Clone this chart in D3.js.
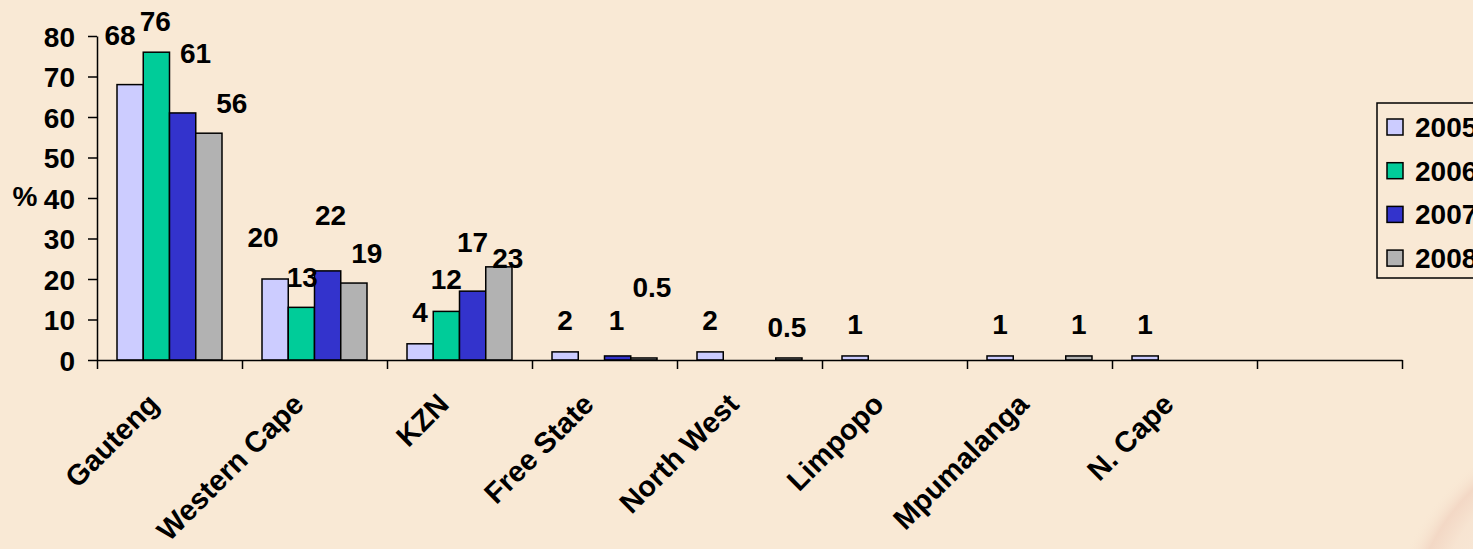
<!DOCTYPE html>
<html>
<head>
<meta charset="utf-8">
<script src="https://cdn.jsdelivr.net/npm/d3@7/dist/d3.min.js"></script>
<style>
  html, body { margin: 0; padding: 0; background: #F9E9D5; overflow: hidden; }
  text { font-family: Arial, "Liberation Sans", sans-serif; font-weight: bold; fill: #000; }
</style>
</head>
<body>
<div id="Container"></div>
<script>
// data
var regions = ["Gauteng", "Western Cape", "KZN", "Free State", "North West", "Limpopo", "Mpumalanga", "N. Cape", ""];
var years = ["2005", "2006", "2007", "2008"];
var v2005 = [68, 20, 4, 2, 2, 1, 1, 1, 0];
var v2006 = [76, 13, 12, 0, 0, 0, 0, 0, 0];
var v2007 = [61, 22, 17, 1, 0, 0, 0, 0, 0];
var v2008 = [56, 19, 23, 0.5, 0.5, 0, 1, 0, 0];
var yTicks = [0, 10, 20, 30, 40, 50, 60, 70, 80];

var colors = { "2005": "#CCCCFF", "2006": "#00CC99", "2007": "#3333CC", "2008": "#B2B2B2" };

// hand placed label nudges in the original [dx, dy from bar top]
var nudge = {
  "2005|Gauteng": [-10, -40], "2006|Gauteng": [-1, -21], "2007|Gauteng": [13, -50], "2008|Gauteng": [23, -20],
  "2005|Western Cape": [-12, -32], "2006|Western Cape": [1, -20], "2007|Western Cape": [3, -46], "2008|Western Cape": [13, -20],
  "2007|KZN": [0, -39], "2008|KZN": [9, 1],
  "2007|Free State": [-1, -26], "2008|Free State": [8, -61],
  "2008|North West": [-2, -21]
};

var W = 1473, H = 549;
var canvas = d3.select("#Container").append("svg")
    .attr("width", W)
    .attr("height", H);

// soft swirl at bottom right
var defs = canvas.append("defs");
var grad = defs.append("radialGradient").attr("id", "swirl")
    .attr("cx", "50%").attr("cy", "50%").attr("r", "50%");
grad.append("stop").attr("offset", "0%").attr("stop-color", "#FBF1E6").attr("stop-opacity", 0.9);
grad.append("stop").attr("offset", "70%").attr("stop-color", "#F6E2D0").attr("stop-opacity", 0.7);
grad.append("stop").attr("offset", "85%").attr("stop-color", "#EFCDBB").attr("stop-opacity", 0.6);
grad.append("stop").attr("offset", "100%").attr("stop-color", "#F9E9D5").attr("stop-opacity", 0);
canvas.append("ellipse")
    .attr("cx", 1560).attr("cy", 560)
    .attr("rx", 190).attr("ry", 130)
    .attr("transform", "rotate(-38,1560,560)")
    .attr("fill", "url(#swirl)");

var x0 = d3.scaleBand()
    .domain(regions)
    .range([97, 1402])
    .padding(0);

var x1 = d3.scaleBand()
    .domain(years)
    .range([0, x0.bandwidth()])
    .paddingInner(0)
    .paddingOuter(0.762);

var y = d3.scaleLinear()
    .domain([0, 80])
    .range([360, 36]);

var rows = [];
regions.forEach(function (r, i) {
    rows.push({ region: r, year: "2005", value: v2005[i] });
    rows.push({ region: r, year: "2006", value: v2006[i] });
    rows.push({ region: r, year: "2007", value: v2007[i] });
    rows.push({ region: r, year: "2008", value: v2008[i] });
});
rows = rows.filter(function (d) { return d.value > 0; });

// bars
canvas.selectAll("rect.bar")
    .data(rows)
    .enter()
    .append("rect")
        .attr("class", "bar")
        .attr("x", function (d) { return x0(d.region) + x1(d.year); })
        .attr("y", function (d) { return y(d.value); })
        .attr("width", x1.bandwidth())
        .attr("height", function (d) { return y(0) - y(d.value); })
        .attr("fill", function (d) { return colors[d.year]; })
        .attr("stroke", "#000")
        .attr("stroke-width", 1.5);

// y axis
var yax = canvas.append("g")
    .attr("transform", "translate(97,0)")
    .call(d3.axisLeft(y).tickValues(yTicks).tickSize(9).tickSizeOuter(0).tickPadding(13));
yax.select(".domain").attr("stroke", "#000").attr("stroke-width", 1.5);
yax.selectAll(".tick line").attr("stroke", "#000").attr("stroke-width", 1.5);
yax.selectAll(".tick text")
    .attr("font-size", 28)
    .attr("dy", "0.36em")
    .style("font-family", "Arial, 'Liberation Sans', sans-serif")
    .style("font-weight", "bold");

canvas.append("text")
    .attr("x", 25)
    .attr("y", 206)
    .attr("text-anchor", "middle")
    .attr("font-size", 28)
    .text("%");

// x axis with ticks on the category boundaries
var xb = d3.scaleLinear().domain([0, regions.length]).range([97, 1402]);
var xax = canvas.append("g")
    .attr("transform", "translate(0,360)")
    .call(d3.axisBottom(xb).tickValues(d3.range(0, regions.length + 1)).tickSize(9).tickSizeOuter(0).tickFormat(""));
xax.select(".domain").attr("stroke", "#000").attr("stroke-width", 1.5);
xax.selectAll(".tick line").attr("stroke", "#000").attr("stroke-width", 1.5);

// category labels
canvas.selectAll("text.cat")
    .data(regions.filter(function (r) { return r !== ""; }))
    .enter()
    .append("text")
        .attr("class", "cat")
        .attr("text-anchor", "end")
        .attr("font-size", 29)
        .attr("transform", function (d) {
            var cx = x0(d) + x0.bandwidth() / 2 - 9;
            return "translate(" + cx + ",406) rotate(-45)";
        })
        .text(function (d) { return d; });

// value labels
canvas.selectAll("text.val")
    .data(rows)
    .enter()
    .append("text")
        .attr("class", "val")
        .attr("text-anchor", "middle")
        .attr("font-size", 28)
        .attr("x", function (d) {
            var n = nudge[d.year + "|" + d.region] || [0, -22];
            return x0(d.region) + x1(d.year) + x1.bandwidth() / 2 + n[0];
        })
        .attr("y", function (d) {
            var n = nudge[d.year + "|" + d.region] || [0, -22];
            return y(d.value) + n[1];
        })
        .text(function (d) { return d.value; });

// legend
var lg = canvas.append("g").attr("transform", "translate(1377,103)");
lg.append("rect")
    .attr("x", 0).attr("y", 0)
    .attr("width", 140).attr("height", 175)
    .attr("fill", "none")
    .attr("stroke", "#000")
    .attr("stroke-width", 1.5);
var item = lg.selectAll("g.item")
    .data(years)
    .enter()
    .append("g")
        .attr("class", "item")
        .attr("transform", function (d, i) { return "translate(0," + (24 + i * 43.7) + ")"; });
item.append("rect")
    .attr("x", 10).attr("y", -8)
    .attr("width", 16).attr("height", 16)
    .attr("fill", function (d) { return colors[d]; })
    .attr("stroke", "#000")
    .attr("stroke-width", 1.5);
item.append("text")
    .attr("x", 38)
    .attr("y", 10)
    .attr("font-size", 28)
    .text(function (d) { return d; });
</script>
</body>
</html>
